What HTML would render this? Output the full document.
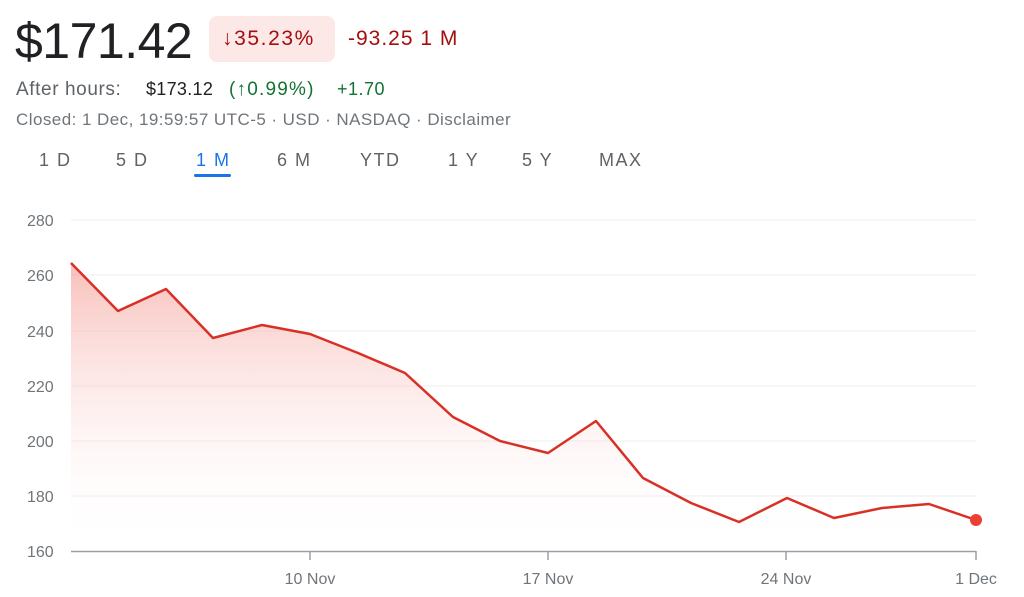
<!DOCTYPE html>
<html><head><style>
body{margin:0;width:1024px;height:597px;background:#fff;font-family:"Liberation Sans",Arial,sans-serif;overflow:hidden;position:relative}
.a{position:absolute;white-space:nowrap}
</style></head><body>
<div class="a" style="left:15px;top:12px;font-size:50px;color:#202124;letter-spacing:-0.5px">$171.42</div>
<div class="a" style="left:209px;top:16px;width:126px;height:46px;background:#fce8e6;border-radius:8px"></div>
<div class="a" style="left:222px;top:27px;font-size:21px;color:#a50e0e;letter-spacing:1.6px">↓35.23%</div>
<div class="a" style="left:348px;top:27px;font-size:21px;color:#a50e0e;letter-spacing:1px">-93.25 1 M</div>
<div class="a" style="left:16px;top:79px;font-size:19px;color:#5f6368;letter-spacing:0.6px">After hours:</div>
<div class="a" style="left:146px;top:79px;font-size:18px;color:#202124;letter-spacing:0.3px">$173.12</div>
<div class="a" style="left:229px;top:79px;font-size:19px;color:#137333;letter-spacing:1.2px">(↑0.99%)</div>
<div class="a" style="left:337px;top:79px;font-size:18px;color:#137333;letter-spacing:0.5px">+1.70</div>
<div class="a" style="left:16px;top:110px;font-size:17px;color:#70757a;letter-spacing:0.45px">Closed: 1 Dec, 19:59:57 UTC-5 · USD · NASDAQ · Disclaimer</div>
<div class="a" style="top:150px;font-size:18px;color:#5f6368;left:0;width:700px;letter-spacing:1.5px">
<span class="a" style="left:39px">1 D</span><span class="a" style="left:116px">5 D</span><span class="a" style="left:196px;color:#1a73e8">1 M</span><span class="a" style="left:277px">6 M</span><span class="a" style="left:360px">YTD</span><span class="a" style="left:448px">1 Y</span><span class="a" style="left:522px">5 Y</span><span class="a" style="left:599px">MAX</span></div>
<div class="a" style="left:194px;top:174px;width:37px;height:3px;background:#1a73e8;border-radius:2px"></div>
<svg class="a" style="left:0;top:0" width="1024" height="597">
<defs><linearGradient id="g" x1="0" y1="0" x2="0" y2="1"><stop offset="0" stop-color="#f28b82" stop-opacity="0.55"/><stop offset="1" stop-color="#fff" stop-opacity="0"/></linearGradient></defs>
<g stroke="#eeeeee" stroke-width="1">
<line x1="71" x2="976" y1="220" y2="220"/><line x1="71" x2="976" y1="275" y2="275"/><line x1="71" x2="976" y1="331" y2="331"/><line x1="71" x2="976" y1="386" y2="386"/><line x1="71" x2="976" y1="441" y2="441"/><line x1="71" x2="976" y1="496" y2="496"/></g>
<g font-size="16" fill="#70757a" font-family="Liberation Sans,Arial,sans-serif">
<text x="27" y="226">280</text><text x="27" y="281">260</text><text x="27" y="337">240</text><text x="27" y="392">220</text><text x="27" y="447">200</text><text x="27" y="502">180</text><text x="27" y="557">160</text>
<text x="310" y="584" text-anchor="middle">10 Nov</text><text x="548" y="584" text-anchor="middle">17 Nov</text><text x="786" y="584" text-anchor="middle">24 Nov</text><text x="976" y="584" text-anchor="middle">1 Dec</text></g>
<polygon fill="url(#g)" points="71,551 71,263 118,311 166,289 213,338 262,325 310,334 358,353 405,373 453,417 500,441 548,453 596,421 643,478 691,503 739,522 787,498 834,518 882,508 929,504 976,520 976,551"/>
<polyline fill="none" stroke="#d93025" stroke-width="2.5" stroke-linejoin="round" points="71,263 118,311 166,289 213,338 262,325 310,334 358,353 405,373 453,417 500,441 548,453 596,421 643,478 691,503 739,522 787,498 834,518 882,508 929,504 976,520"/>
<g stroke="#9aa0a6" stroke-width="1.5"><line x1="71" x2="976" y1="551.5" y2="551.5"/><line x1="310" x2="310" y1="551" y2="560"/><line x1="548" x2="548" y1="551" y2="560"/><line x1="786" x2="786" y1="551" y2="560"/><line x1="976" x2="976" y1="551" y2="560"/></g>
<circle cx="976" cy="520" r="6" fill="#e94235"/>
</svg>
</body></html>
